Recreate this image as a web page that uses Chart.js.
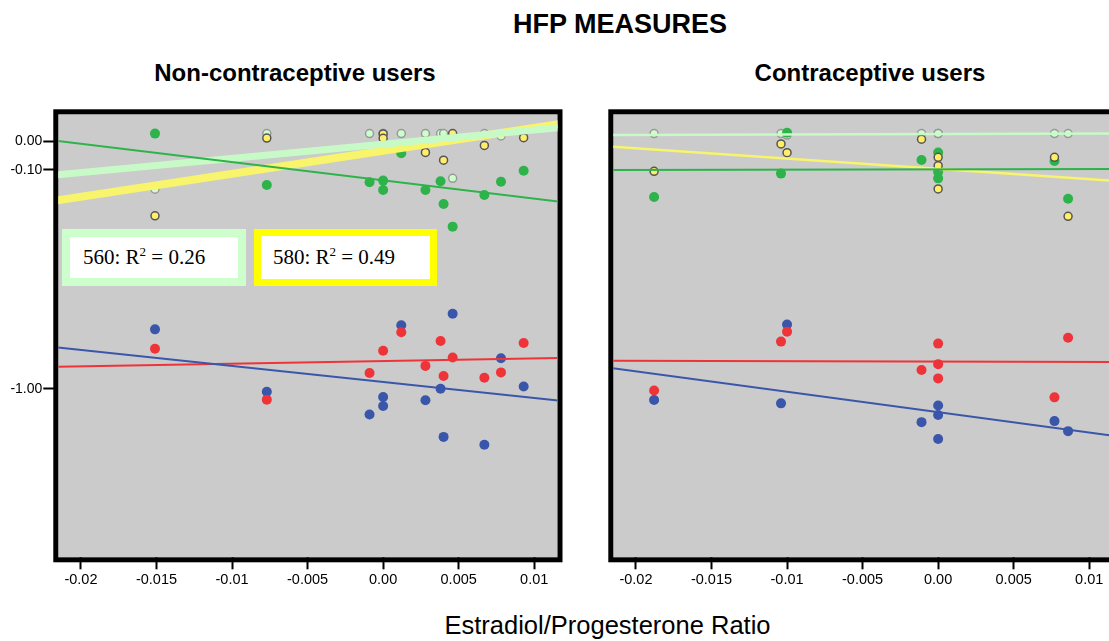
<!DOCTYPE html>
<html>
<head>
<meta charset="utf-8">
<script src="https://cdn.jsdelivr.net/npm/chart.js@4.4.1/dist/chart.umd.min.js"></script>
<style>
  body {
    margin: 0;
    width: 1109px;
    height: 641px;
    overflow: hidden;
    position: relative;
    background: #ffffff;
    font-family: 'Liberation Sans', Arial, sans-serif;
    color: #000000;
  }
  .label {
    position: absolute;
    white-space: nowrap;
    line-height: 1;
    transform: translateX(-50%);
  }
  canvas {
    position: absolute;
  }
  .fitbox {
    position: absolute;
    box-sizing: border-box;
    background: #ffffff;
    display: flex;
    align-items: center;
    font-family: 'Liberation Serif', 'Times New Roman', serif;
    font-size: 21px;
    white-space: nowrap;
  }
  .fitbox sup {
    font-size: 62%;
    line-height: 0;
    vertical-align: 0.62em;
  }
</style>
</head>
<body>

<div class="label" style="left:620px; top:10.5px; font-size:27px; font-weight:bold;">HFP MEASURES</div>
<div class="label" style="left:295px; top:60.5px; font-size:24px; font-weight:bold;">Non-contraceptive users</div>
<div class="label" style="left:870px; top:60.5px; font-size:24px; font-weight:bold;">Contraceptive users</div>
<div class="label" style="left:607.5px; top:612.5px; font-size:25.5px;">Estradiol/Progesterone Ratio</div>

<canvas id="left-chart" width="563" height="500" style="left:0px; top:100px;"></canvas>
<canvas id="right-chart" width="563" height="500" style="left:555px; top:100px;"></canvas>

<div class="fitbox" style="left:61.7px; top:229px; width:184.3px; height:56.7px; border:8px solid #ccffcc; padding-left:13.3px;"><span>560: R<sup>2</sup> = 0.26</span></div>
<div class="fitbox" style="left:254.3px; top:229px; width:182.7px; height:56.7px; border:7px solid #ffff00; padding-left:11.6px;"><span>580: R<sup>2</sup> = 0.49</span></div>

<script>
// ----------------- Data ------------------------//

// axis ticks
const X_TICKS = [-0.02, -0.015, -0.01, -0.005, 0, 0.005, 0.01]
const X_TICK_LABELS = ['-0.02', '-0.015', '-0.01', '-0.005', '0.00', '0.005', '0.01']
const Y_TICKS = [0, -0.1, -1]

// Non-contraceptive users: one entry per subject
const LEFT_RATIO = [-0.0151, -0.0077, -0.0009, 0.0, 0.0, 0.0012, 0.0028, 0.0038, 0.004, 0.0046, 0.0067, 0.0078, 0.0093]
const LEFT_GREEN = [0.025, -0.154, -0.144, -0.138, -0.172, -0.042, -0.172, -0.14, -0.223, -0.308, -0.19, -0.142, -0.103]
const LEFT_560 = [-0.169, 0.025, 0.025, 0.025, 0.025, 0.025, 0.025, 0.025, 0.025, -0.13, 0.025, 0.017, 0.025]
const LEFT_580 = [-0.267, 0.01, null, 0.024, 0.009, null, -0.039, null, -0.066, 0.025, -0.015, null, 0.011]
const LEFT_BLUE = [-0.728, -1.013, -1.123, -1.038, -1.082, -0.71, -1.054, -0.999, -1.235, -0.66, -1.275, -0.857, -0.988]
const LEFT_RED = [-0.814, -1.051, -0.925, -0.823, null, -0.741, -0.892, -0.779, -0.939, -0.854, -0.947, -0.922, -0.788]

// Contraceptive users
const RIGHT_RATIO = [-0.0188, -0.0104, -0.01, -0.0011, 0.0, 0.0, 0.0, 0.0077, 0.0086]
const RIGHT_GREEN = [-0.197, -0.113, 0.028, -0.065, -0.039, -0.107, -0.13, -0.069, -0.204]
const RIGHT_560 = [0.025, 0.025, 0.02, 0.025, 0.025, 0.025, 0.025, 0.025, 0.025]
const RIGHT_580 = [-0.105, -0.01, -0.04, 0.006, -0.056, -0.085, -0.168, -0.056, -0.269]
const RIGHT_BLUE = [-1.053, -1.069, -0.707, -1.161, -1.079, -1.126, -1.246, -1.156, -1.206]
const RIGHT_RED = [-1.007, -0.782, -0.738, -0.911, -0.791, -0.884, -0.95, -1.04, -0.765]

// fitted lines, value at each end of the ratio axis
const FIT_X = [-0.0217, 0.0117]
const LEFT_FIT_GREEN = [0.001, -0.2145]
const LEFT_FIT_560 = [-0.118, 0.045]
const LEFT_FIT_580 = [-0.211, 0.057]
const LEFT_FIT_BLUE = [-0.807, -1.056]
const LEFT_FIT_RED = [-0.896, -0.856]
const RIGHT_FIT_GREEN = [-0.1, -0.097]
const RIGHT_FIT_560 = [0.02, 0.025]
const RIGHT_FIT_580 = [-0.019, -0.139]
const RIGHT_FIT_BLUE = [-0.901, -1.231]
const RIGHT_FIT_RED = [-0.868, -0.874]

// ----------------- Scale ------------------------//

// HFP axis is compressed towards the bottom: position follows log10(Y_SHIFT - value)
const Y_SHIFT = 2.5
const Y_MIN = -1.898
const Y_MAX = 0.089

class ShiftedLogScale extends Chart.LinearScale {
  warp(v) {
    return Math.log10(Y_SHIFT - v)
  }
  getPixelForValue(value) {
    const a = this.warp(this.min)
    const b = this.warp(this.max)
    return this.getPixelForDecimal((this.warp(value) - a) / (b - a))
  }
  getValueForPixel(pixel) {
    const a = this.warp(this.min)
    const b = this.warp(this.max)
    const t = a + this.getDecimalForPixel(pixel) * (b - a)
    return Y_SHIFT - Math.pow(10, t)
  }
}
ShiftedLogScale.id = 'shiftedLog'
ShiftedLogScale.defaults = {}
Chart.register(ShiftedLogScale)

// ----------------- Drawing ------------------------//

const GREEN = '#2db34a'
const PALE = '#ccffcc'
const YELLOW = '#ffee66'
const BLUE = '#3a56aa'
const RED = '#ee3439'

const toPoints = (xs, ys) => xs.map((x, i) => ({ x: x, y: ys[i] })).filter((p) => p.y !== null)

// gray plot area with the heavy black frame
const framePlugin = {
  id: 'frame',
  beforeDatasetsDraw(chart) {
    const { ctx, chartArea } = chart
    const { left, top, right, bottom } = chartArea
    ctx.save()
    ctx.fillStyle = '#cbcbcb'
    ctx.fillRect(left, top, right - left, bottom - top)
    ctx.strokeStyle = '#000000'
    ctx.lineWidth = 5
    ctx.strokeRect(left - 2.5, top - 2.5, right - left + 5, bottom - top + 5)
    ctx.restore()
  },
}

const dots = (data, fill, border, radius, order) => ({
  data: data,
  backgroundColor: fill,
  borderColor: border,
  borderWidth: border ? 1.5 : 0,
  pointRadius: radius,
  showLine: false,
  order: order,
})

const fitLine = (data, color, width) => ({
  data: data,
  borderColor: color,
  borderWidth: width,
  pointRadius: 0,
  showLine: true,
  fill: false,
  order: 0,
})

const makeChart = (canvasId, showYTicks, series) => {
  const ctx = document.getElementById(canvasId)
  return new Chart(ctx, {
    type: 'scatter',
    data: {
      datasets: [
        dots(toPoints(series.ratio, series.blue), BLUE, null, 5, 6),
        dots(toPoints(series.ratio, series.red), RED, null, 5, 5),
        dots(toPoints(series.ratio, series.pale), PALE, '#999999', 4, 4),
        dots(toPoints(series.ratio, series.green), GREEN, null, 5, 3),
        dots(toPoints(series.ratio, series.yellow), YELLOW, '#555555', 4, 2),
        fitLine(toPoints(FIT_X, series.fitBlue), BLUE, 2),
        fitLine(toPoints(FIT_X, series.fitRed), RED, 2),
        fitLine(toPoints(FIT_X, series.fitGreen), GREEN, 2),
        fitLine(toPoints(FIT_X, series.fit560), '#c8fac8', series.thick ? 7 : 2.5),
        fitLine(toPoints(FIT_X, series.fit580), '#f8f46c', series.thick ? 8 : 2.5),
      ],
    },
    options: {
      responsive: false,
      animation: false,
      devicePixelRatio: 1,
      layout: {
        padding: { top: 14.3, right: 5.5, bottom: 0, left: 0 },
      },
      plugins: {
        legend: { display: false },
        tooltip: { enabled: false },
      },
      scales: {
        x: {
          type: 'linear',
          min: -0.0215,
          max: 0.01154,
          afterFit: (scale) => {
            scale.height = 42.7
          },
          afterBuildTicks: (scale) => {
            scale.ticks = X_TICKS.map((v) => ({ value: v }))
          },
          border: { display: false },
          grid: {
            drawOnChartArea: false,
            drawTicks: true,
            tickLength: 12,
            tickWidth: 2,
            tickColor: '#000000',
          },
          ticks: {
            color: '#000000',
            padding: 2,
            maxRotation: 0,
            font: { family: "'Liberation Sans', Arial, sans-serif", size: 14.5 },
            callback: (value, index) => X_TICK_LABELS[index],
          },
        },
        y: {
          type: 'shiftedLog',
          min: Y_MIN,
          max: Y_MAX,
          afterFit: (scale) => {
            scale.width = 58.3
          },
          afterBuildTicks: (scale) => {
            scale.ticks = Y_TICKS.map((v) => ({ value: v }))
          },
          border: { display: false },
          grid: {
            display: showYTicks,
            drawOnChartArea: false,
            drawTicks: true,
            tickLength: 15,
            tickWidth: 2,
            tickColor: '#000000',
          },
          ticks: {
            display: showYTicks,
            color: '#000000',
            padding: 1,
            font: { family: "'Liberation Sans', Arial, sans-serif", size: 14 },
            callback: (value) => Number(value).toFixed(2),
          },
        },
      },
    },
    plugins: [framePlugin],
  })
}

makeChart('left-chart', true, {
  ratio: LEFT_RATIO,
  green: LEFT_GREEN,
  pale: LEFT_560,
  yellow: LEFT_580,
  blue: LEFT_BLUE,
  red: LEFT_RED,
  fitGreen: LEFT_FIT_GREEN,
  fit560: LEFT_FIT_560,
  fit580: LEFT_FIT_580,
  fitBlue: LEFT_FIT_BLUE,
  fitRed: LEFT_FIT_RED,
  thick: true,
})

makeChart('right-chart', false, {
  ratio: RIGHT_RATIO,
  green: RIGHT_GREEN,
  pale: RIGHT_560,
  yellow: RIGHT_580,
  blue: RIGHT_BLUE,
  red: RIGHT_RED,
  fitGreen: RIGHT_FIT_GREEN,
  fit560: RIGHT_FIT_560,
  fit580: RIGHT_FIT_580,
  fitBlue: RIGHT_FIT_BLUE,
  fitRed: RIGHT_FIT_RED,
  thick: false,
})
</script>
</body>
</html>
